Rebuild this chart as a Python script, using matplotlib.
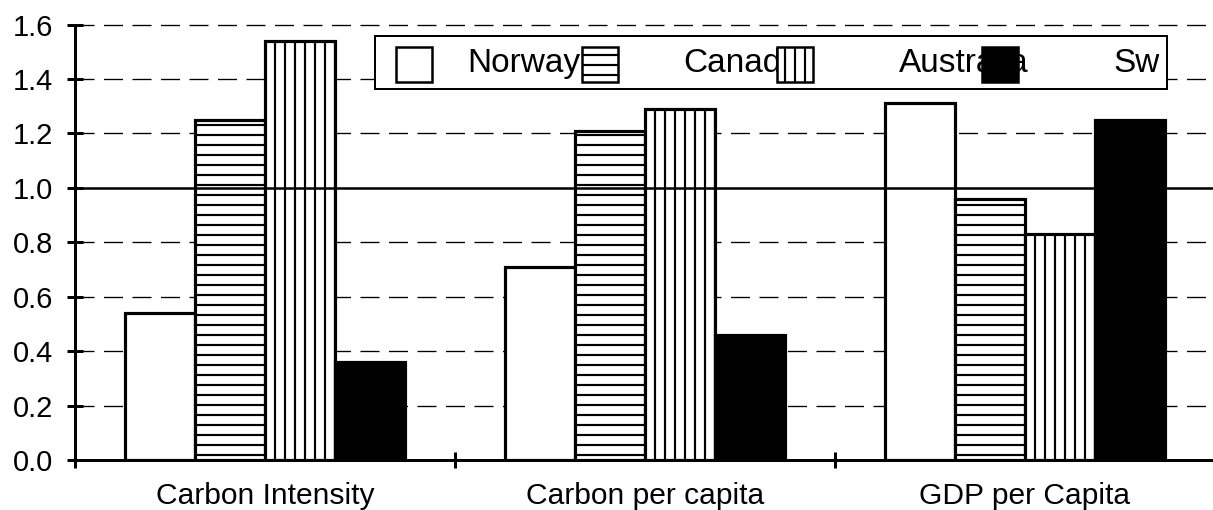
import numpy as np
import matplotlib
matplotlib.use("Agg")
import matplotlib.pyplot as plt
from matplotlib.patches import Rectangle
from matplotlib.transforms import Bbox, TransformedBbox

plt.rcParams['font.family'] = ['Liberation Sans', 'DejaVu Sans']
plt.rcParams['hatch.linewidth'] = 1.3
plt.rcParams['lines.scale_dashes'] = False

# data
categories = ["Carbon Intensity", "Carbon per capita", "GDP per Capita"]
countries = ["Norway", "Canada", "Australia", "Sweden"]
norway = [0.54, 0.71, 1.31]
canada = [1.25, 1.21, 0.96]
australia = [1.54, 1.29, 0.83]
sweden = [0.36, 0.46, 1.25]
yticks = [0.0, 0.2, 0.4, 0.6, 0.8, 1.0, 1.2, 1.4, 1.6]

series = [norway, canada, australia, sweden]
facecolors = ["white", "white", "white", "black"]
hatches = [None, "--", "||", None]

fig = plt.figure(figsize=(1213 / 120, 510 / 120), dpi=120)
ax = fig.add_axes([75 / 1213, 50 / 510, 1140 / 1213, 435.5 / 510])

# grid: dashed, with a solid reference line at 1.0
grid_y = [v for v in yticks if v not in (0.0, 1.0)]
ax.hlines(grid_y, -0.5, 2.5, colors="black", linewidth=0.8,
          linestyles=[(0, (11.4, 5.7))], zorder=1, clip_on=False)

x = np.arange(len(categories))
w = 0.184
for i, vals in enumerate(series):
    ax.bar(x + (i - 1.5) * w, vals, w, color=facecolors[i], edgecolor="black",
           linewidth=1.9, hatch=hatches[i], zorder=2)

ax.axhline(1.0, color="black", linewidth=1.5, zorder=3)

ax.set_xlim(-0.5, 2.5)
ax.set_ylim(0, 1.6)
ax.spines["top"].set_visible(False)
ax.spines["right"].set_visible(False)
ax.spines["left"].set_linewidth(1.8)
ax.spines["bottom"].set_linewidth(1.8)
ax.spines["left"].set_zorder(4)
ax.spines["bottom"].set_zorder(4)

ax.set_yticks(yticks)
ax.set_yticklabels([f"{v:.1f}" for v in yticks])
ax.tick_params(axis="y", direction="inout", length=10, width=1.8, pad=8,
               labelsize=17.5)

ax.set_xticks([-0.5, 0.5, 1.5, 2.5])
ax.set_xticklabels([])
ax.tick_params(axis="x", which="major", direction="inout", length=10, width=1.8)
ax.set_xticks(x, minor=True)
ax.set_xticklabels(categories, minor=True)
ax.tick_params(axis="x", which="minor", length=0, pad=13, labelsize=18)

# Excel-style legend box with the overlapping entries
lax = fig.add_axes([375 / 1213, (510 - 89) / 510, 792 / 1213, 53 / 510])
lax.set_xlim(0, 792)
lax.set_ylim(0, 53)
lax.set_xticks([])
lax.set_yticks([])
for s in lax.spines.values():
    s.set_linewidth(1.2)
clip_box = TransformedBbox(Bbox([[0, 0], [784, 53]]), lax.transData)
patch_x = [21, 207, 402, 607]
text_x = [92, 308, 524, 738]
for i, name in enumerate(countries):
    t = lax.text(text_x[i], 17, name, fontsize=20, va="baseline", ha="left",
                 zorder=1, clip_on=True)
    t.set_clip_box(clip_box)
    lax.add_patch(Rectangle((patch_x[i], 7), 36, 35, facecolor=facecolors[i],
                            edgecolor="black", linewidth=1.5, hatch=hatches[i],
                            zorder=2))

fig.savefig("out.png", dpi=120)
